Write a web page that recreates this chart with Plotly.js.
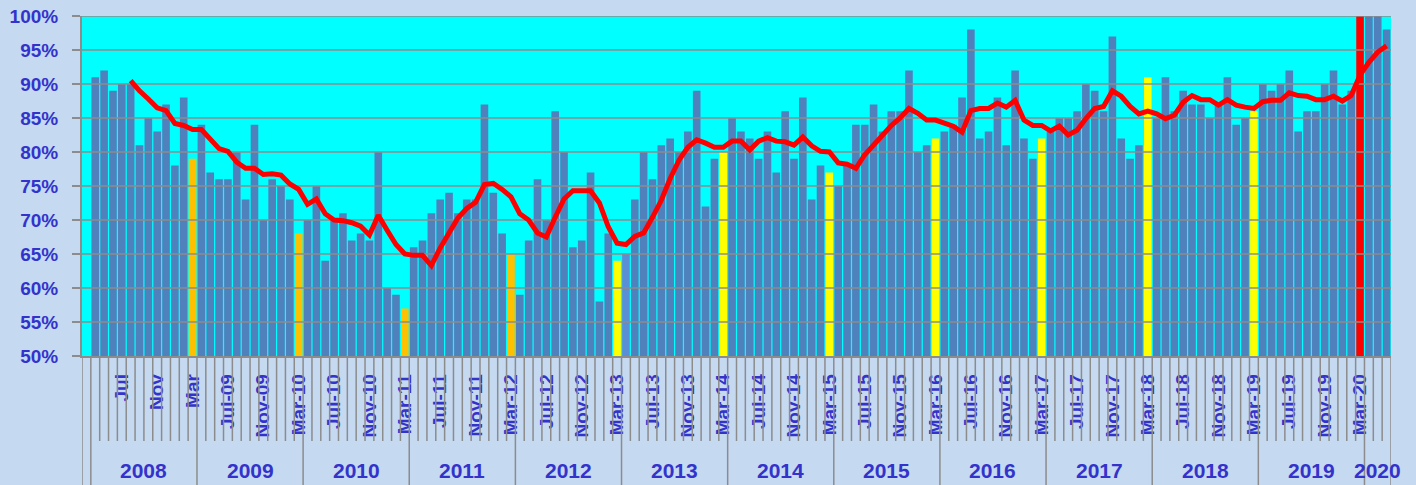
<!DOCTYPE html>
<html><head><meta charset="utf-8">
<script src="https://cdn.plot.ly/plotly-3.0.1.min.js"></script>
<style>html,body{margin:0;padding:0;background:#C5D9F1;}#chart{width:1416px;height:485px;}</style>
</head><body><div id="chart"></div>
<script>
// ---- categories: months Mar-2008 .. Jun-2020 ----
const monthNames = ['Jan','Feb','Mar','Apr','May','Jun','Jul','Aug','Sep','Oct','Nov','Dec'];
const categories = [];
for (let y = 2008, m = 2; !(y === 2020 && m === 6); ) {
  categories.push(monthNames[m] + '-' + String(y).slice(2));
  m++; if (m === 12) { m = 0; y++; }
}

// ---- monthly values (%) ----
const barValues = [
  null,
  91, 92, 89, 90, 90, 81, 85, 83, 87, 78, 88, 79,   // Apr-08 .. Mar-09
  84, 77, 76, 76, 80, 73, 84, 70, 76, 75, 73, 68,   // Apr-09 .. Mar-10
  70, 75, 64, 70, 71, 67, 68, 67, 80, 60, 59, 57,   // Apr-10 .. Mar-11
  66, 67, 71, 73, 74, 71, 73, 73, 87, 74, 68, 65,   // Apr-11 .. Mar-12
  59, 67, 76, 70, 86, 80, 66, 67, 77, 58, 68, 64,   // Apr-12 .. Mar-13
  65, 73, 80, 76, 81, 82, 80, 83, 89, 72, 79, 80,   // Apr-13 .. Mar-14
  85, 83, 82, 79, 83, 77, 86, 79, 88, 73, 78, 77,   // Apr-14 .. Mar-15
  75, 78, 84, 84, 87, 83, 86, 86, 92, 80, 81, 82,   // Apr-15 .. Mar-16
  83, 84, 88, 98, 82, 83, 88, 81, 92, 82, 79, 82,   // Apr-16 .. Mar-17
  83, 85, 85, 86, 90, 89, 86, 97, 82, 79, 81, 91,   // Apr-17 .. Mar-18
  85, 91, 86, 89, 87, 87, 85, 87, 91, 84, 85, 86,   // Apr-18 .. Mar-19
  90, 89, 90, 92, 83, 86, 86, 90, 92, 87, 89, 100,  // Apr-19 .. Mar-20
  100, 100, 98                                      // Apr-20 .. Jun-20
];

// ---- rolling average (%) ----
const avgValues = [
  null, null, null, null, null,
  90.5, 89.0, 87.8, 86.5, 86.1, 84.2, 83.9, 83.3,
  83.3, 82.0, 80.5, 80.1, 78.5, 77.6, 77.6, 76.7, 76.8, 76.6, 75.3, 74.5,
  72.3, 73.1, 70.9, 70.0, 69.9, 69.6, 69.1, 67.8, 70.7, 68.5, 66.4, 65.0,
  64.8, 64.8, 63.3, 65.9, 68.2, 70.3, 71.7, 72.6, 75.2, 75.4, 74.5, 73.4,
  70.9, 70.0, 68.1, 67.5, 70.4, 73.1, 74.3, 74.3, 74.3, 72.5, 69.0, 66.6,
  66.4, 67.6, 68.1, 70.4, 72.9, 76.1, 78.8, 80.7, 81.8, 81.3, 80.7, 80.7,
  81.6, 81.6, 80.3, 81.6, 82.1, 81.6, 81.5, 81.0, 82.2, 80.9, 80.1, 80.0,
  78.4, 78.2, 77.6, 79.6, 81.0, 82.5, 83.9, 85.0, 86.4, 85.7, 84.7, 84.7,
  84.2, 83.8, 82.9, 86.1, 86.4, 86.4, 87.2, 86.6, 87.6, 84.7, 83.9, 83.9,
  83.1, 83.8, 82.5, 83.2, 84.9, 86.4, 86.7, 89.0, 88.2, 86.7, 85.6, 86.0,
  85.6, 84.9, 85.4, 87.3, 88.3, 87.7, 87.7, 86.9, 87.7, 86.9, 86.6, 86.4,
  87.4, 87.6, 87.6, 88.7, 88.3, 88.2, 87.7, 87.7, 88.2, 87.5, 88.3, 91.3,
  93.2, 94.7, 95.6
];

// ---- axis labels ----
const tickMonths = categories.filter((c, i) => i > 0 && /^(Jul|Nov|Mar)/.test(c));
const tickText = ['Jul','Nov','Mar',
  'Jul-09','Nov-09','Mar-10','Jul-10','Nov-10','Mar-11','Jul-11','Nov-11','Mar-12',
  'Jul-12','Nov-12','Mar-13','Jul-13','Nov-13','Mar-14','Jul-14','Nov-14','Mar-15',
  'Jul-15','Nov-15','Mar-16','Jul-16','Nov-16','Mar-17','Jul-17','Nov-17','Mar-18',
  'Jul-18','Nov-18','Mar-19','Jul-19','Nov-19','Mar-20'];
const fiscalYears = ['2008','2009','2010','2011','2012','2013','2014','2015','2016','2017','2018','2019','2020'];
const yTicks = [50, 55, 60, 65, 70, 75, 80, 85, 90, 95, 100];
const yTickText = yTicks.map(v => v + '%');

// ---- styling ----
const BLUE = '#4F81BD', TEXT = '#3333CC', GRID = '#8C8C8C';
const FONT = 'Liberation Sans, Arial, sans-serif';
const idx = categories.map((c, i) => i);
const barColors = categories.map(c => {
  if (c.startsWith('Mar')) {
    const yr = +c.slice(4);
    if (yr <= 12) return '#FFC000';
    if (yr >= 20) return '#FF0000';
    return '#FFFF00';
  }
  if (c === 'Apr-13') return '#5A8FD6';
  return BLUE;
});
const N = categories.length;
const x0 = -0.5, x1 = N - 0.5;

// gridlines (drawn above bars, below the line)
const gx = [], gy = [];
yTicks.slice(1, -1).forEach(v => { gx.push(x0, x1, null); gy.push(v, v, null); });

const traces = [
  {type: 'bar', x: idx, y: barValues, marker: {color: barColors, line: {width: 0}},
   hoverinfo: 'skip', showlegend: false},
  {type: 'scatter', mode: 'lines', x: gx, y: gy, line: {color: GRID, width: 1.5},
   hoverinfo: 'skip', showlegend: false},
  {type: 'scatter', mode: 'lines', x: idx, y: avgValues, connectgaps: false,
   line: {color: '#FF0000', width: 5}, hoverinfo: 'skip', showlegend: false}
];

// category boundary ticks and fiscal-year separators
const shapes = [];
for (let k = 0; k <= N; k++) {
  const isGroup = (k === 0 || k === N || (k - 1) % 12 === 0);
  shapes.push({type: 'line', xref: 'x', yref: 'paper', x0: k - 0.5, x1: k - 0.5,
    y0: 0, y1: isGroup ? -0.4 : -0.25, line: {color: GRID, width: 1.5}, layer: 'above'});
}
shapes.push({type: 'line', xref: 'paper', yref: 'y', x0: 0, x1: 1, y0: 100, y1: 100,
  line: {color: GRID, width: 1.5}, layer: 'above'});

// fiscal-year labels
const annotations = fiscalYears.map((yr, g) => {
  const start = 1 + 12 * g;
  const end = Math.min(start + 11, N - 1);
  return {xref: 'x', yref: 'paper', x: (start + end) / 2, y: -0.336, text: '<b>' + yr + '</b>',
    showarrow: false, xanchor: 'center', yanchor: 'middle',
    font: {family: FONT, size: 21, color: TEXT}};
});

const layout = {
  width: 1416, height: 485,
  margin: {l: 82, r: 25, t: 16, b: 129},
  paper_bgcolor: '#C5D9F1', plot_bgcolor: '#00FFFF',
  bargap: 0.14, showlegend: false,
  xaxis: {
    type: 'linear', range: [x0, x1], showgrid: false, zeroline: false,
    showline: true, linecolor: GRID, linewidth: 1.5,
    tickmode: 'array', tickvals: tickMonths.map(c => categories.indexOf(c)),
    ticktext: tickText.map(t => '<b>' + t + '</b>'),
    tickangle: -90, ticks: '', ticklabelstandoff: 9,
    tickfont: {family: FONT, size: 19, color: TEXT}
  },
  yaxis: {
    range: [50, 100], tickmode: 'array', tickvals: yTicks,
    ticktext: yTickText.map(t => '<b>' + t + '</b>'),
    showgrid: false, zeroline: false, showline: true, linecolor: GRID, linewidth: 2,
    ticks: 'outside', ticklen: 8, tickwidth: 1.5, tickcolor: GRID, ticklabelstandoff: 10,
    tickfont: {family: FONT, size: 19, color: TEXT}
  },
  shapes: shapes,
  annotations: annotations
};

Plotly.newPlot('chart', traces, layout, {displayModeBar: false, staticPlot: true});
</script>
</body></html>
